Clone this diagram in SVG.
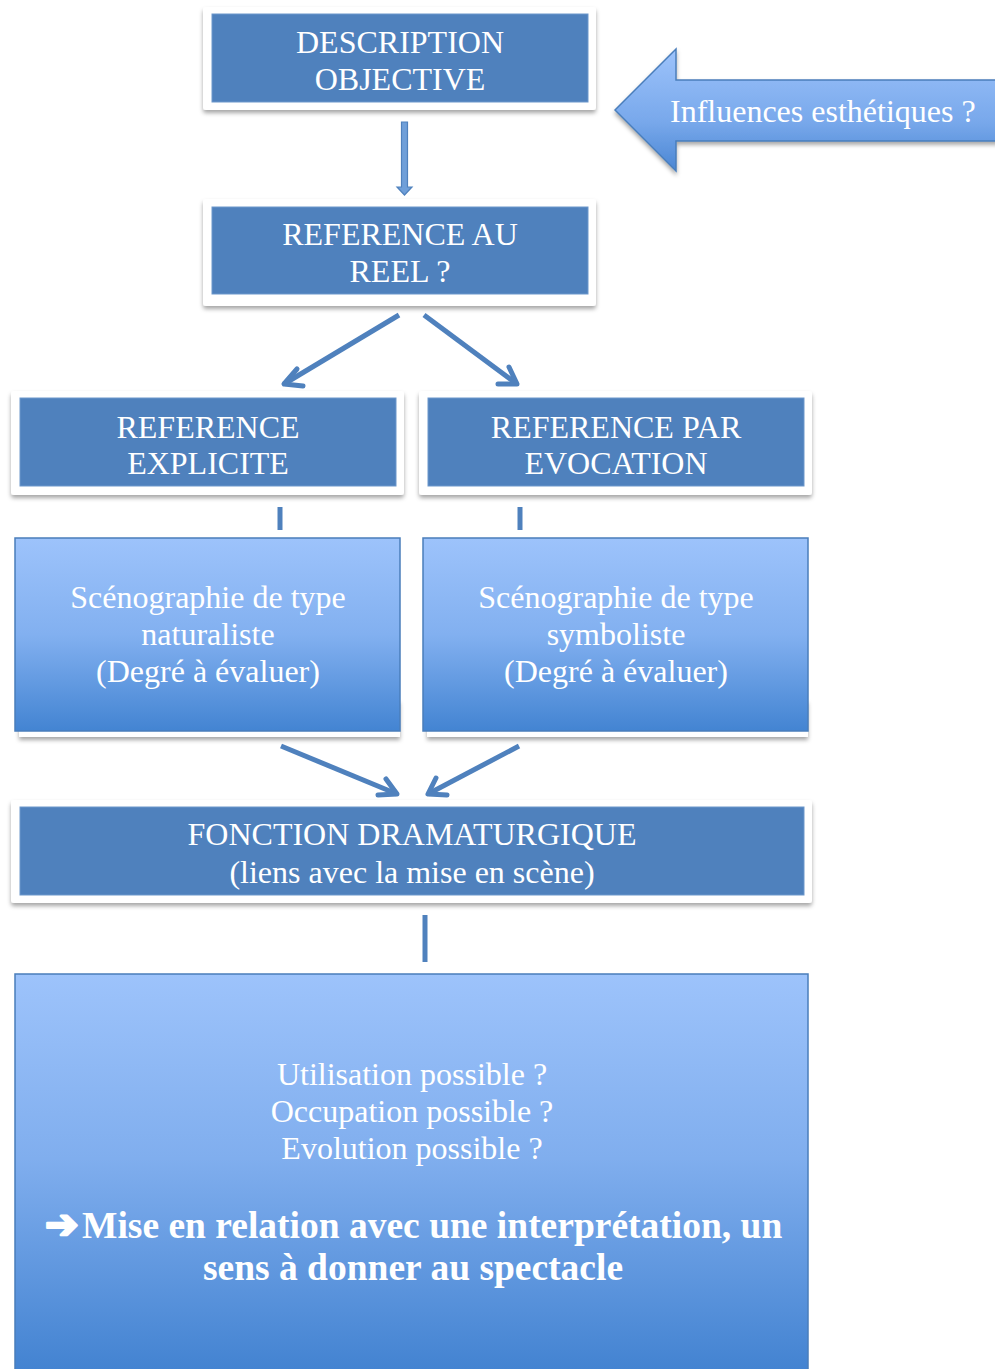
<svg xmlns="http://www.w3.org/2000/svg" width="995" height="1369" viewBox="0 0 995 1369">
<defs>
<style>
.t{font-family:"Liberation Serif","Times New Roman",serif;font-size:32px;fill:#ffffff;text-anchor:middle}
.b{font-family:"Liberation Serif","Times New Roman",serif;font-size:37.5px;font-weight:bold;fill:#ffffff;text-anchor:middle}
.card{fill:#ffffff;filter:url(#sh)}
.dark{fill:#4f81bd;stroke:#6d97cb;stroke-width:1}
.grad{stroke:#4a7ebb;stroke-width:1.5}
.con{stroke:#4f81bd;stroke-width:5;fill:none;stroke-linecap:butt}
.head{stroke:#4f81bd;stroke-width:5;fill:none;stroke-linecap:round;stroke-linejoin:round}
</style>
<filter id="sh" x="-5%" y="-10%" width="110%" height="130%">
<feDropShadow dx="0" dy="3" stdDeviation="2" flood-color="#000" flood-opacity="0.35"/>
</filter>
<linearGradient id="g1" x1="0" y1="0" x2="0" y2="1">
<stop offset="0" stop-color="#9dc3fb"/>
<stop offset="0.5" stop-color="#82b0f0"/>
<stop offset="1" stop-color="#4384d2"/>
</linearGradient>
<linearGradient id="g2" x1="0" y1="0" x2="0" y2="1">
<stop offset="0" stop-color="#9dc3fb"/>
<stop offset="0.45" stop-color="#80aeee"/>
<stop offset="1" stop-color="#3f80cf"/>
</linearGradient>
<linearGradient id="g3" x1="0" y1="0" x2="0" y2="1">
<stop offset="0" stop-color="#9dc3fb"/>
<stop offset="0.6" stop-color="#78a8eb"/>
<stop offset="1" stop-color="#4a86d3"/>
</linearGradient>
</defs>

<g id="connectors">
<polygon points="401.5,122 407.5,122 407.5,187 412,187 404.5,195 397,187 401.5,187" fill="#6f9fd9" stroke="#4f81bd" stroke-width="1.2"/>
<line class="con" x1="399" y1="315" x2="284" y2="384"/>
<polyline class="head" points="297,369 284,384 303,386"/>
<line class="con" x1="424" y1="315" x2="517" y2="384"/>
<polyline class="head" points="498,384 517,384 509,367"/>
<line class="con" x1="280" y1="507" x2="280" y2="530"/>
<line class="con" x1="520" y1="507" x2="520" y2="530"/>
<line class="con" x1="281" y1="746" x2="397" y2="794"/>
<polyline class="head" points="378,795 397,794 386,779"/>
<line class="con" x1="519" y1="746" x2="428" y2="794"/>
<polyline class="head" points="436,778 428,794 447,795"/>
<line class="con" x1="425" y1="915" x2="425" y2="962"/>
</g>

<g id="n-description">
<rect class="card" x="203" y="7" width="393" height="103" rx="3"/>
<rect class="dark" x="212" y="14" width="376" height="88"/>
<text class="t" x="400" y="53">DESCRIPTION</text>
<text class="t" x="400" y="90">OBJECTIVE</text>
</g>

<g id="n-influences">
<polygon points="615,110 676,49 676,80 1000,80 1000,141 676,141 676,171" fill="url(#g3)" stroke="#4a7ebb" stroke-width="1.5" filter="url(#sh)"/>
<text class="t" x="670" y="122" style="text-anchor:start">Influences esthétiques ?</text>
</g>

<g id="n-reference">
<rect class="card" x="203" y="199" width="393" height="107" rx="3"/>
<rect class="dark" x="212" y="207" width="376" height="87"/>
<text class="t" x="400" y="245">REFERENCE AU</text>
<text class="t" x="400" y="282">REEL ?</text>
</g>

<g id="n-explicite">
<rect class="card" x="11" y="391" width="393" height="104" rx="3"/>
<rect class="dark" x="20" y="398" width="376" height="88"/>
<text class="t" x="208" y="438">REFERENCE</text>
<text class="t" x="208" y="474">EXPLICITE</text>
</g>

<g id="n-evocation">
<rect class="card" x="419" y="391" width="393" height="104" rx="3"/>
<rect class="dark" x="428" y="398" width="376" height="88"/>
<text class="t" x="616" y="438">REFERENCE PAR</text>
<text class="t" x="616" y="474">EVOCATION</text>
</g>

<g id="n-naturaliste">
<rect class="card" x="19" y="700" width="381" height="37"/>
<rect class="grad" x="15" y="538" width="385" height="193" fill="url(#g1)"/>
<text class="t" x="208" y="608">Scénographie de type</text>
<text class="t" x="208" y="645">naturaliste</text>
<text class="t" x="208" y="682">(Degré à évaluer)</text>
</g>

<g id="n-symboliste">
<rect class="card" x="427" y="700" width="381" height="37"/>
<rect class="grad" x="423" y="538" width="385" height="193" fill="url(#g1)"/>
<text class="t" x="616" y="608">Scénographie de type</text>
<text class="t" x="616" y="645">symboliste</text>
<text class="t" x="616" y="682">(Degré à évaluer)</text>
</g>

<g id="n-fonction">
<rect class="card" x="11" y="800" width="801" height="103" rx="3"/>
<rect class="dark" x="20" y="807" width="784" height="88"/>
<text class="t" x="412" y="845">FONCTION DRAMATURGIQUE</text>
<text class="t" x="412" y="883">(liens avec la mise en scène)</text>
</g>

<g id="n-mise">
<rect class="grad" x="15" y="974" width="793" height="410" fill="url(#g2)"/>
<text class="t" x="412" y="1085">Utilisation possible ?</text>
<text class="t" x="412" y="1122">Occupation possible ?</text>
<text class="t" x="412" y="1159">Evolution possible ?</text>
<text class="b" x="45" y="1238" style="text-anchor:start"><tspan style="font-family:'DejaVu Sans',sans-serif;font-size:40px;font-weight:bold;stroke:#ffffff;stroke-width:2.5;stroke-linejoin:round">➔</tspan><tspan x="82">Mise en relation avec une interprétation, un</tspan></text>
<text class="b" x="413" y="1280">sens à donner au spectacle</text>
</g>
</svg>
